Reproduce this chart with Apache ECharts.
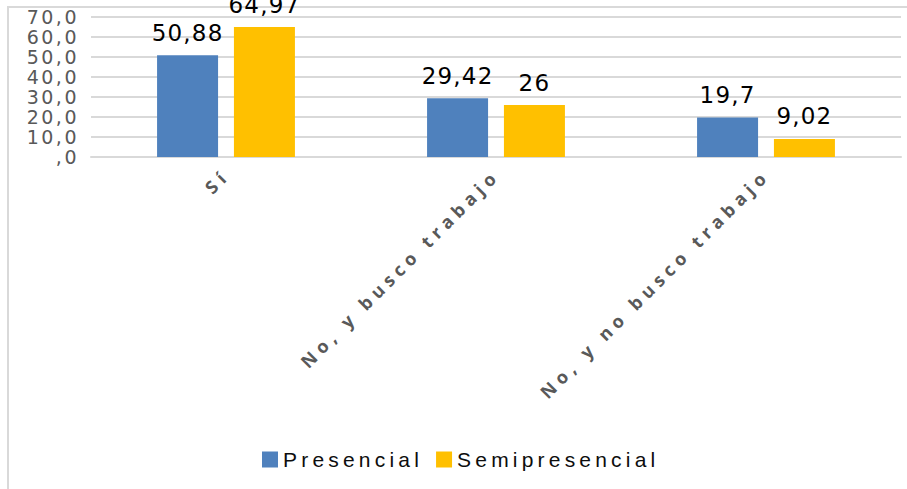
<!DOCTYPE html>
<html>
<head>
<meta charset="utf-8">
<script src="https://cdn.jsdelivr.net/npm/echarts@6/dist/echarts.min.js"></script>
<style>
  html, body { margin: 0; padding: 0; background: #fff; }
  #chart { width: 907px; height: 489px; }
  /* spaced-out lettering for each text group (picked by font size) */
  #chart text[style*="19px"] { letter-spacing: 2.5px; }
  #chart text[style*="23px"] { letter-spacing: 1.2px; }
  #chart text[style*="18px"] { letter-spacing: 5.2px; }
  #chart text[style*="21px"] { letter-spacing: 4.2px; }
</style>
</head>
<body>
<div id="chart"></div>
<script>
// Categories and series
const categories = ['Sí', 'No, y busco trabajo', 'No, y no busco trabajo'];
const presencial = [50.88, 29.42, 19.7];
const semipresencial = [64.97, 26, 9.02];
const seriesNames = ['Presencial', 'Semipresencial'];
// Value axis tick labels (0..70 step 10)
const yTickLabels = [',0', '10,0', '20,0', '30,0', '40,0', '50,0', '60,0', '70,0'];

const chart = echarts.init(document.getElementById('chart'), null, { renderer: 'svg' });

const dataLabel = {
  show: true,
  position: 'top',
  distance: 11,
  color: '#000',
  fontFamily: 'DejaVu Sans',
  fontSize: 23,
  formatter: p => String(p.value).replace('.', ',')
};

chart.setOption({
  animation: false,
  backgroundColor: '#fff',
  graphic: [{
    type: 'polyline',
    silent: true,
    shape: { points: [[8, 489], [8, 7], [907, 7]] },
    style: { stroke: '#d9d9d9', lineWidth: 2, fill: null }
  }],
  grid: {
    left: 91, right: 6, top: 17, bottom: 332,
    containLabel: false,
    outerBoundsMode: 'none'
  },
  legend: {
    data: seriesNames,
    left: 257,
    top: 444,
    itemWidth: 16,
    itemHeight: 16,
    itemGap: 55,
    icon: 'rect',
    textStyle: { fontFamily: 'Liberation Sans', fontSize: 21, color: '#0d0d0d' }
  },
  xAxis: {
    type: 'category',
    data: categories,
    axisLine: { show: true, lineStyle: { color: '#d9d9d9', width: 2 } },
    axisTick: { show: false },
    axisLabel: {
      interval: 0,
      rotate: 45,
      margin: 15,
      color: '#595959',
      fontFamily: 'Open Sans',
      fontWeight: 'bold',
      fontSize: 18
    }
  },
  yAxis: {
    type: 'value',
    min: 0,
    max: 70,
    interval: 10,
    axisLine: { show: false },
    axisTick: { show: false },
    splitLine: { lineStyle: { color: '#d9d9d9', width: 2 } },
    axisLabel: {
      margin: 12,
      color: '#595959',
      fontFamily: 'DejaVu Sans',
      fontSize: 19,
      formatter: v => yTickLabels[Math.round(v / 10)]
    }
  },
  series: [
    {
      name: seriesNames[0],
      type: 'bar',
      data: presencial,
      barWidth: 61,
      barGap: '26%',
      itemStyle: { color: '#4f81bd' },
      label: dataLabel
    },
    {
      name: seriesNames[1],
      type: 'bar',
      data: semipresencial,
      barWidth: 61,
      barGap: '26%',
      itemStyle: { color: '#ffc000' },
      label: dataLabel
    }
  ]
});
</script>
</body>
</html>
